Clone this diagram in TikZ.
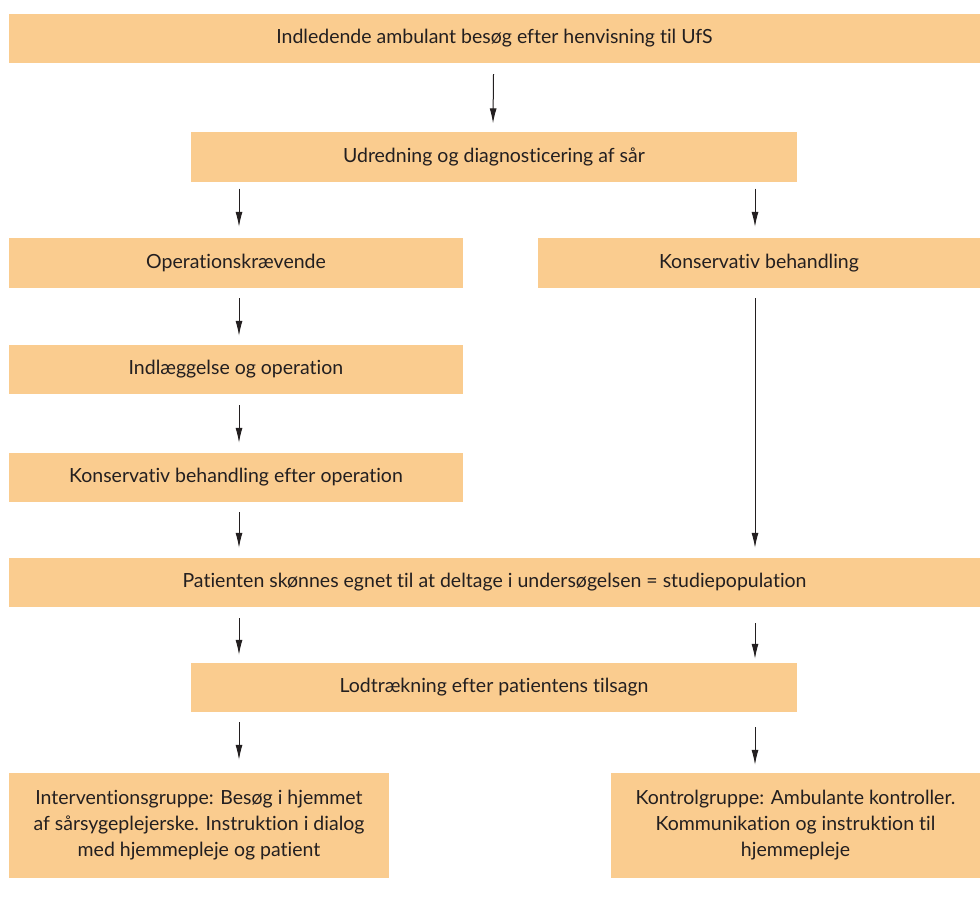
\documentclass[tikz,border=0pt]{standalone}
\usepackage{fontspec}
\setmainfont{Lato}[Ligatures={NoCommon}]
\usetikzlibrary{arrows.meta,calc}
\definecolor{boxfill}{RGB}{250,204,143}
\definecolor{txt}{RGB}{35,31,32}
\begin{document}
\begin{tikzpicture}[x=1pt,y=1pt,
  box/.style={fill=boxfill,draw=none,inner sep=0pt,align=center,text=txt,
    font=\fontsize{19.5}{26}\selectfont},
  arr/.style={draw=txt,line width=1pt,-{Latex[length=15pt,width=7pt]}}]
\useasboundingbox (0,0) rectangle (980,-907);
\coordinate (xl) at (239,0);
\coordinate (xr) at (755,0);
\node[box,minimum width=971,minimum height=49] (b1) at (494.5,-38.5) {Indledende ambulant besøg efter henvisning til UfS};
\node[box,minimum width=606,minimum height=50] (b2) at (494,-156.5) {Udredning og diagnosticering af sår};
\node[box,minimum width=454,minimum height=50] (op) at (236,-263) {Operationskrævende};
\node[box,minimum width=442,minimum height=50] (kb) at (759,-263) {Konservativ behandling};
\node[box,minimum width=454,minimum height=49] (ind) at (236,-369.5) {Indlæggelse og operation};
\node[box,minimum width=454,minimum height=49] (kop) at (236,-477.5) {Konservativ behandling efter operation};
\node[box,minimum width=971,minimum height=49] (pat) at (494.5,-582.5) {Patienten skønnes egnet til at deltage i undersøgelsen = studiepopulation};
\node[box,minimum width=606,minimum height=49] (lod) at (494,-687.5) {Lodtrækning efter patientens tilsagn};
\node[box,minimum width=380,minimum height=105] (int) at (199,-825.5) {Interventionsgruppe: Besøg i hjemmet\\af sårsygeplejerske. Instruktion i dialog\\med hjemmepleje og patient};
\node[box,minimum width=369,minimum height=105] (kon) at (795.5,-825.5) {Kontrolgruppe: Ambulante kontroller.\\Kommunikation og instruktion til\\hjemmepleje};
\draw[arr] ($(b1.south)+(-1,-11)$) -- ($(b2.north)+(-1,8)$);
\draw[arr] ($(b2.south -| xl)+(0,-7)$) -- ($(op.north -| xl)+(0,11)$);
\draw[arr] ($(b2.south -| xr)+(0,-7)$) -- ($(kb.north -| xr)+(0,11)$);
\draw[arr] ($(op.south -| xl)+(0,-10)$) -- ($(ind.north -| xl)+(0,9)$);
\draw[arr] ($(ind.south -| xl)+(0,-11)$) -- ($(kop.north -| xl)+(0,10)$);
\draw[arr] ($(kop.south -| xl)+(0,-10)$) -- ($(pat.north -| xl)+(0,10)$);
\draw[arr] ($(kb.south -| xr)+(0,-10)$) -- ($(pat.north -| xr)+(0,10)$);
\draw[arr] ($(pat.south -| xl)+(0,-11)$) -- ($(lod.north -| xl)+(0,8)$);
\draw[arr] ($(pat.south -| xr)+(0,-16)$) -- ($(lod.north -| xr)+(0,4)$);
\draw[arr] ($(lod.south -| xl)+(0,-10)$) -- ($(int.north -| xl)+(0,13)$);
\draw[arr] ($(lod.south -| xr)+(0,-15)$) -- ($(kon.north -| xr)+(0,8)$);
\end{tikzpicture}
\end{document}
